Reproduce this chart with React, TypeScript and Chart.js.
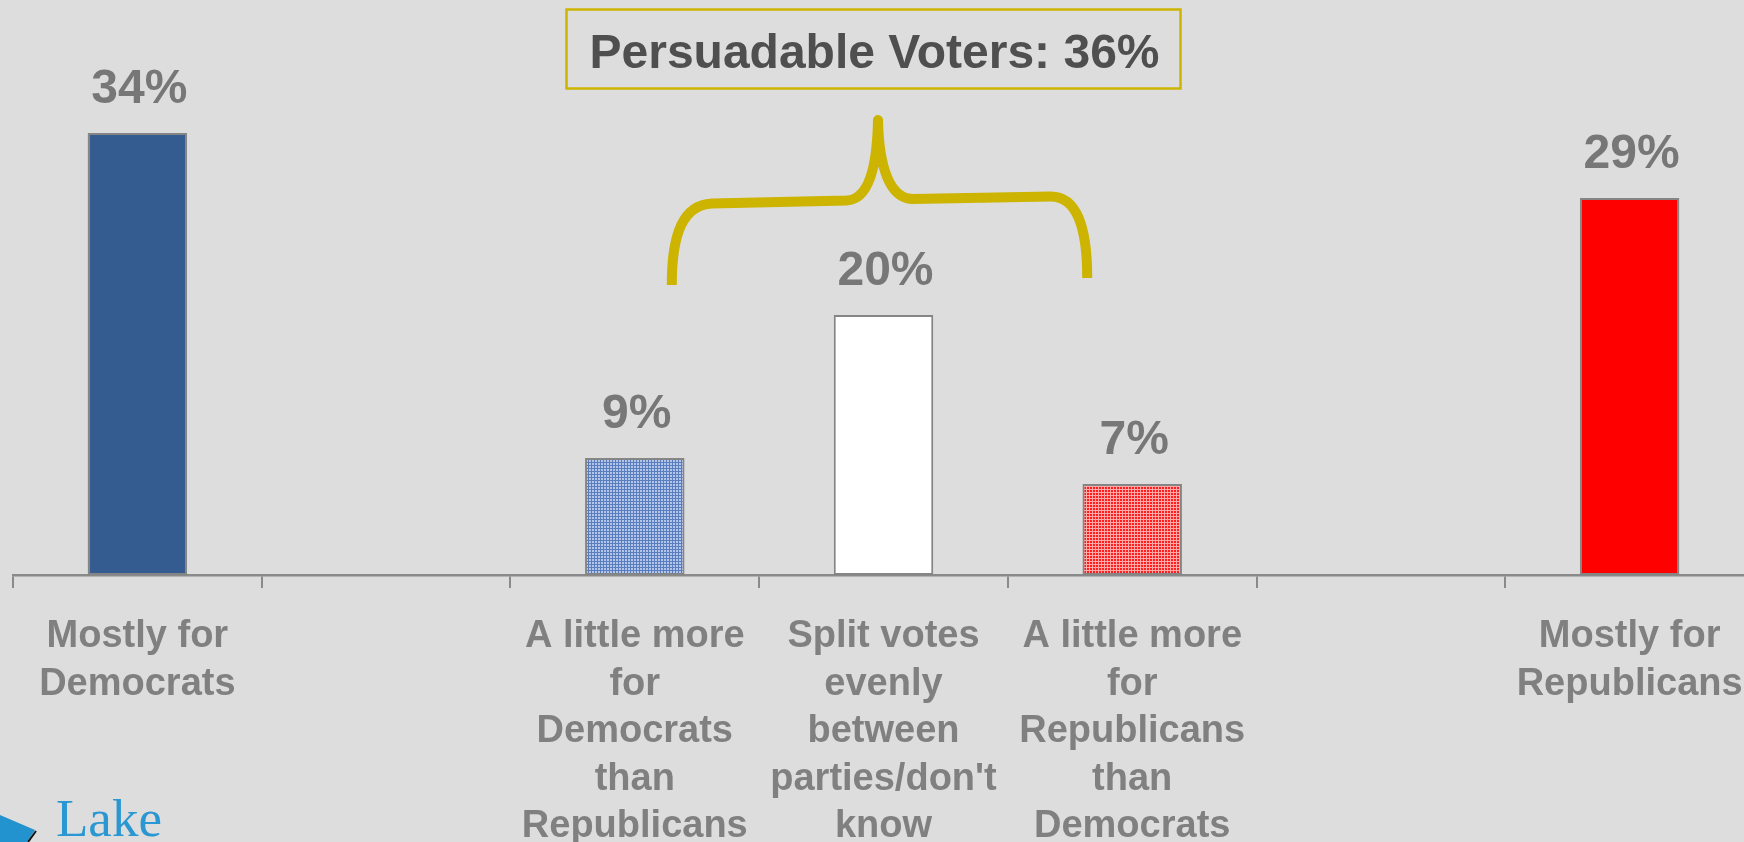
import { useEffect, useRef } from "react";
import { Chart, registerables } from "chart.js";

Chart.register(...registerables);

const categories: (string | string[])[] = [
  ["Mostly for", "Democrats"],
  "",
  ["A little more", "for", "Democrats", "than", "Republicans"],
  ["Split votes", "evenly", "between", "parties/don't", "know"],
  ["A little more", "for", "Republicans", "than", "Democrats"],
  "",
  ["Mostly for", "Republicans"],
];
const values: (number | null)[] = [34, null, 9, 20, 7, null, 29];
const valueLabels = ["34%", "", "9%", "20%", "7%", "", "29%"];
const calloutText = "Persuadable Voters: 36%";
const logoText = "Lake";

const FONT = "'Liberation Sans', Arial, Helvetica, sans-serif";
const GOLD = "#CCB400";
const AXIS_GRAY = "#8a8a8a";

function makePattern(bg: string, line: string): CanvasPattern | string {
  const c = document.createElement("canvas");
  c.width = 3;
  c.height = 3;
  const g = c.getContext("2d");
  if (!g) return bg;
  g.fillStyle = bg;
  g.fillRect(0, 0, 3, 3);
  g.fillStyle = line;
  g.fillRect(0, 0, 3, 1);
  g.fillRect(0, 0, 1, 3);
  return g.createPattern(c, "repeat") || bg;
}

const annotationPlugin = {
  id: "annotations",
  afterDatasetsDraw(chart: any) {
    const ctx: CanvasRenderingContext2D = chart.ctx;
    const meta = chart.getDatasetMeta(0);
    // value labels
    ctx.save();
    ctx.font = `bold 48px ${FONT}`;
    ctx.fillStyle = "#777777";
    ctx.textAlign = "center";
    ctx.textBaseline = "alphabetic";
    meta.data.forEach((bar: any, i: number) => {
      if (values[i] == null || !valueLabels[i]) return;
      ctx.fillText(valueLabels[i], bar.x + 2, bar.y - 30);
    });
    ctx.restore();

    const xs = chart.scales.x;
    const c2 = xs.getPixelForValue(2);
    const c3 = xs.getPixelForValue(3);
    const c4 = xs.getPixelForValue(4);

    // brace
    ctx.save();
    ctx.strokeStyle = GOLD;
    ctx.lineWidth = 10;
    ctx.lineCap = "butt";
    ctx.lineJoin = "round";
    const tipX = c3 - 5.5;
    ctx.beginPath();
    ctx.moveTo(c2 + 37, 285);
    ctx.bezierCurveTo(c2 + 37, 232, c2 + 49, 205, c2 + 77, 203.5);
    ctx.lineTo(c3 - 37, 200.5);
    ctx.bezierCurveTo(c3 - 15, 199.5, tipX - 1, 168, tipX, 120);
    ctx.bezierCurveTo(tipX + 1, 168, tipX + 12, 198, tipX + 34, 199);
    ctx.lineTo(c4 - 82, 196.5);
    ctx.bezierCurveTo(c4 - 56, 196, c4 - 45, 226, c4 - 45, 278);
    ctx.stroke();
    ctx.fillStyle = GOLD;
    ctx.beginPath();
    ctx.arc(tipX, 121, 5, 0, Math.PI * 2);
    ctx.fill();
    ctx.restore();

    // callout box
    ctx.save();
    ctx.strokeStyle = GOLD;
    ctx.lineWidth = 2.5;
    ctx.strokeRect(c3 - 317, 9.5, 614, 79);
    ctx.font = `bold 48px ${FONT}`;
    ctx.fillStyle = "#4f4f4f";
    ctx.textAlign = "center";
    ctx.textBaseline = "alphabetic";
    ctx.fillText(calloutText, c3 - 9, 68);
    ctx.restore();

    // logo
    ctx.save();
    ctx.fillStyle = "#2393CF";
    ctx.beginPath();
    ctx.moveTo(0, 815);
    ctx.lineTo(35, 830);
    ctx.lineTo(27, 842);
    ctx.lineTo(0, 842);
    ctx.closePath();
    ctx.fill();
    ctx.strokeStyle = "#111111";
    ctx.lineWidth = 2;
    ctx.beginPath();
    ctx.moveTo(36, 831);
    ctx.lineTo(28, 842);
    ctx.stroke();
    ctx.font = `53px 'Liberation Serif', 'Times New Roman', serif`;
    ctx.fillStyle = "#2A96D2";
    ctx.textAlign = "left";
    ctx.textBaseline = "alphabetic";
    ctx.fillText(logoText, 56, 836);
    ctx.restore();
  },
};

export default function App() {
  const ref = useRef<HTMLCanvasElement | null>(null);

  useEffect(() => {
    if (!ref.current) return;
    const bluePattern = makePattern("#B3C6E8", "#5A7DC0");
    const redPattern = makePattern("#FF1E1E", "#FFA8A8");
    const colors = ["#355C91", "#000000", bluePattern, "#FFFFFF", redPattern, "#000000", "#FF0000"];

    const chart = new Chart(ref.current, {
      type: "bar",
      data: {
        labels: categories,
        datasets: [
          {
            data: values,
            backgroundColor: colors as any,
            borderColor: "#858585",
            borderWidth: 2,
            borderSkipped: false,
            barPercentage: 0.4,
            categoryPercentage: 1,
          },
        ],
      },
      options: {
        animation: false,
        responsive: false,
        maintainAspectRatio: false,
        events: [],
        layout: { padding: { left: 13, right: 46, top: 55, bottom: 0 } },
        plugins: {
          legend: { display: false },
          tooltip: { enabled: false },
          title: { display: false },
        },
        scales: {
          x: {
            offset: true,
            grid: {
              display: true,
              offset: true,
              drawOnChartArea: false,
              drawTicks: true,
              tickLength: 13,
              color: AXIS_GRAY,
              lineWidth: 2,
            },
            border: { display: true, color: AXIS_GRAY, width: 2.5 },
            ticks: {
              autoSkip: false,
              maxRotation: 0,
              minRotation: 0,
              padding: 25,
              color: "#808080",
              font: { family: FONT, size: 38, weight: "bold", lineHeight: 1.25 },
            },
            afterFit: (scale: any) => {
              scale.height = 267;
            },
          },
          y: {
            display: false,
            min: 0,
            max: 40,
          },
        },
      },
      plugins: [annotationPlugin],
    });
    return () => chart.destroy();
  }, []);

  return (
    <div
      style={{
        position: "fixed",
        left: 0,
        top: 0,
        width: 1744,
        height: 842,
        overflow: "hidden",
        background: "#DDDDDD",
      }}
    >
      <canvas ref={ref} width={1800} height={842} style={{ display: "block", width: 1800, height: 842 }} />
    </div>
  );
}
